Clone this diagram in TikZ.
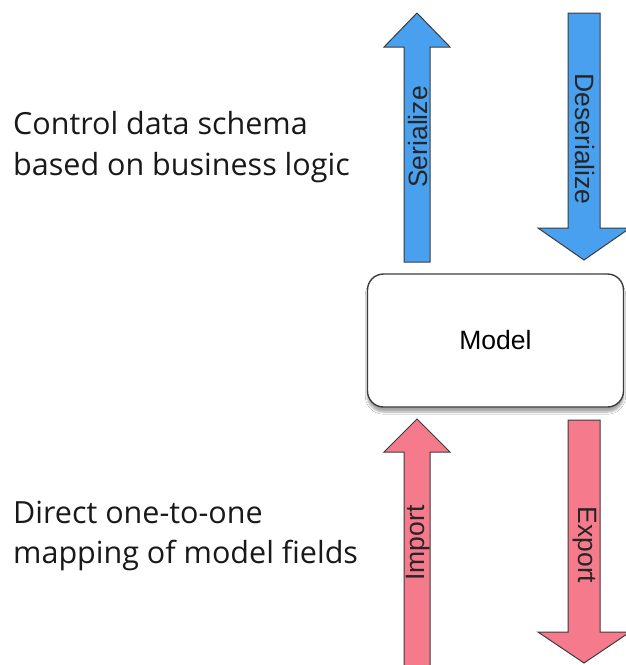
\documentclass[tikz,border=0pt]{standalone}
\usepackage{fontspec}
\setmainfont{Liberation Sans}
\newfontfamily\notefont{Open Sans}
\usetikzlibrary{shadows.blur}

\definecolor{serblue}{RGB}{72,160,238}
\definecolor{imppink}{RGB}{245,122,140}
\definecolor{edgegray}{RGB}{60,60,60}

\tikzset{
  blockarrow/.style={draw=edgegray, line width=1pt, line join=miter},
  arrowlabel/.style={inner sep=0pt, text=black!85, font=\fontsize{26.5}{30}\selectfont},
  notetext/.style={anchor=base west, inner sep=0pt, text=black!90,
                   font=\notefont\fontsize{30.5}{36}\selectfont},
  modelbox/.style={draw=edgegray, line width=1.4pt, fill=white,
                   rounded corners=16pt, minimum width=256pt, minimum height=133pt,
                   inner sep=0pt, blur shadow={shadow xshift=0pt, shadow yshift=-5pt,
                   shadow blur steps=8, shadow opacity=35},
                   font=\fontsize{26.5}{30}\selectfont}
}

\begin{document}
\begin{tikzpicture}[x=1pt, y=-1pt]
  \useasboundingbox (0,0) rectangle (626,665);

  % serialize / deserialize pair (upper)
  \fill[white] (0,0) rectangle (626,665);
  \draw[blockarrow, fill=serblue]
    (404,262) -- (404,47) -- (384,47) -- (417,13) -- (450,47) -- (430,47) -- (430,262) -- cycle;
  \draw[blockarrow, fill=serblue]
    (568,13) -- (600,13) -- (600,228) -- (630,228) -- (584,260) -- (538,228) -- (568,228) -- cycle;

  % import / export pair (lower)
  \draw[blockarrow, fill=imppink]
    (404,672) -- (404,452) -- (384,452) -- (417,419) -- (450,452) -- (430,452) -- (430,672) -- cycle;
  \draw[blockarrow, fill=imppink]
    (568,420) -- (600,420) -- (600,632) -- (630,632) -- (584,663) -- (538,632) -- (568,632) -- cycle;

  % arrow captions
  \node[arrowlabel, rotate=90]  (ser)   at (418,137) {Serialize};
  \node[arrowlabel, rotate=-90] (deser) at (585,139) {Deserialize};
  \node[arrowlabel, rotate=90]  (imp)   at (418,543) {Import};
  \node[arrowlabel, rotate=-90] (exp)   at (585,545) {Export};

  % model box
  \node[modelbox] (model) at (495.5,340.5) {Model};

  % side notes
  \node[notetext] (ctrlA) at (13,134) {Control data schema};
  \node[notetext] (ctrlB) at (13,175) {based on business logic};
  \node[notetext] (dirA)  at (13,523) {Direct one-to-one};
  \node[notetext] (dirB)  at (13,563) {mapping of model fields};
\end{tikzpicture}
\end{document}
